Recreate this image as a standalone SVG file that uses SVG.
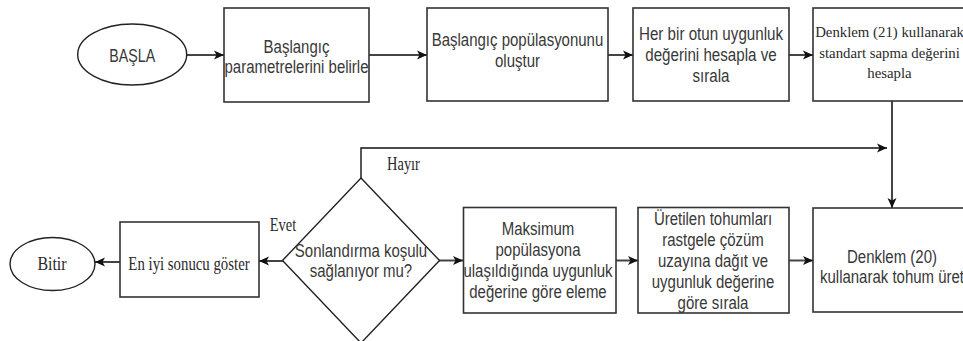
<svg xmlns="http://www.w3.org/2000/svg" width="963" height="341" viewBox="0 0 963 341">
<style>
.bg{fill:#fff}
.box{fill:#fff;stroke:#333;stroke-width:1.6}
.sh{fill:none;stroke:#222;stroke-width:1.4}
.s{font-family:"Liberation Sans",Arial,sans-serif;font-size:18.5px;fill:#383838;text-anchor:middle}
.r{font-family:"Liberation Serif","Times New Roman",serif;fill:#2a2a2a;text-anchor:middle}
.c{fill:none;stroke:#444;stroke-width:2}
.k{fill:none;stroke:#111;stroke-width:1.4}
</style>
<defs>
<marker id="ah" markerUnits="userSpaceOnUse" markerWidth="11" markerHeight="10" refX="10" refY="5" orient="auto" viewBox="0 0 11 10">
<path d="M0,0.5 L10,5 L0,9.5 L2.5,5 z" fill="#111"/>
</marker>
</defs>
<rect class="bg" x="0" y="0" width="963" height="341"/>
<g id="connectors">
<path class="c" d="M187,55 L224,55" marker-end="url(#ah)"/>
<path class="c" d="M369,55 L427,55" marker-end="url(#ah)"/>
<path class="c" d="M608,55 L633,55" marker-end="url(#ah)"/>
<path class="c" d="M789,55 L813,55" marker-end="url(#ah)"/>
<path class="c" d="M892,101 L892,208" marker-end="url(#ah)"/>
<path class="k" d="M361,178 L361,148 L887,148" marker-end="url(#ah)"/>
<path class="c" d="M439,260.5 L463,260.5" marker-end="url(#ah)"/>
<path class="c" d="M616,260.5 L638,260.5" marker-end="url(#ah)"/>
<path class="c" d="M789,260.5 L813,260.5" marker-end="url(#ah)"/>
<path class="c" d="M283,261 L259,261" marker-end="url(#ah)"/>
<path class="c" d="M120,262 L95,262" marker-end="url(#ah)"/>
</g>
<g id="label-hayir"><text class="r" font-size="18.5" transform="translate(403.5,0) scale(0.78,1)"><tspan x="0" y="170.5">Hayır</tspan></text></g>
<g id="label-evet"><text class="r" font-size="18" transform="translate(283,0) scale(0.8,1)"><tspan x="0" y="231.5">Evet</tspan></text></g>
<g id="basla">
<ellipse class="sh" cx="132.2" cy="54.5" rx="54.5" ry="30.5" fill="#fff"/>
<text class="s" transform="translate(132.2,0) scale(0.77,1)"><tspan x="0" y="61.7">BAŞLA</tspan></text>
</g>
<g id="n1">
<rect class="box" x="224" y="8" width="145" height="94"/>
<text class="s" transform="translate(296.5,0) scale(0.81,1)"><tspan x="0" y="52.7">Başlangıç</tspan><tspan x="0" y="73.3">parametrelerini belirle</tspan></text>
</g>
<g id="n2">
<rect class="box" x="427" y="8" width="181" height="93"/>
<text class="s" transform="translate(517.5,0) scale(0.81,1)"><tspan x="0" y="46">Başlangıç popülasyonunu</tspan><tspan x="0" y="67">oluştur</tspan></text>
</g>
<g id="n3">
<rect class="box" x="633" y="8" width="156" height="93"/>
<text class="s" transform="translate(711,0) scale(0.82,1)"><tspan x="0" y="40">Her bir otun uygunluk</tspan><tspan x="0" y="61">değerini hesapla ve</tspan><tspan x="0" y="82">sırala</tspan></text>
</g>
<g id="n4">
<rect class="box" x="813" y="8" width="155" height="93"/>
<text class="r" font-size="14.8"><tspan x="889.5" y="37">Denklem (21) kullanarak</tspan><tspan x="889.5" y="57.5">standart sapma değerini</tspan><tspan x="889.5" y="78">hesapla</tspan></text>
</g>
<g id="n5">
<rect class="box" x="813" y="208" width="155" height="104"/>
<text class="s" transform="translate(892,0) scale(0.81,1)"><tspan x="0" y="263">Denklem (20)</tspan><tspan x="0" y="283.5">kullanarak tohum üret</tspan></text>
</g>
<g id="n6">
<rect class="box" x="638" y="207.5" width="151" height="105.5"/>
<text class="s" transform="translate(713,0) scale(0.81,1)"><tspan x="0" y="225">Üretilen tohumları</tspan><tspan x="0" y="246">rastgele çözüm</tspan><tspan x="0" y="267">uzayına dağıt ve</tspan><tspan x="0" y="288">uygunluk değerine</tspan><tspan x="0" y="309">göre sırala</tspan></text>
</g>
<g id="n7">
<rect class="box" x="463.5" y="207.5" width="152.5" height="105.5"/>
<text class="s" transform="translate(538,0) scale(0.81,1)"><tspan x="0" y="235">Maksimum</tspan><tspan x="0" y="256">popülasyona</tspan><tspan x="0" y="277">ulaşıldığında uygunluk</tspan><tspan x="0" y="298">değerine göre eleme</tspan></text>
</g>
<g id="n8">
<path class="sh" d="M361,178 L439.5,260.5 L361,343 L282.5,260.5 Z" fill="#fff"/>
<text class="s" transform="translate(361,0) scale(0.81,1)"><tspan x="0" y="256.7">Sonlandırma koşulu</tspan><tspan x="0" y="276.7">sağlanıyor mu?</tspan></text>
</g>
<g id="n9">
<rect class="box" x="120" y="222" width="139" height="75"/>
<text class="r" font-size="19" transform="translate(189,0) scale(0.78,1)"><tspan x="0" y="270">En iyi sonucu göster</tspan></text>
</g>
<g id="n10">
<ellipse class="sh" cx="52.5" cy="264" rx="42.5" ry="26.5" fill="#fff"/>
<text class="r" font-size="19" transform="translate(52,0) scale(0.84,1)"><tspan x="0" y="270">Bitir</tspan></text>
</g>
</svg>
